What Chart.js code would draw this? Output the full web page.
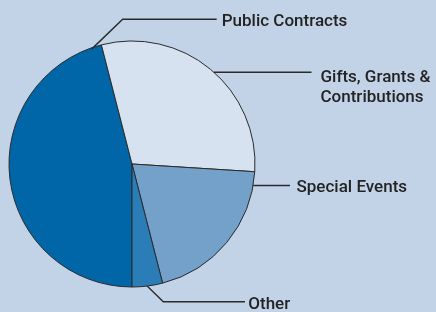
<!DOCTYPE html>
<html>
<head>
<meta charset="utf-8">
<script src="https://cdn.jsdelivr.net/npm/chart.js@4/dist/chart.umd.min.js"></script>
<style>
  html, body { margin: 0; padding: 0; background: #c2d3e7; }
  #wrap { width: 436px; height: 312px; }
</style>
</head>
<body>
<div id="wrap"><canvas id="myChart" width="436" height="312"></canvas></div>
<script>
// revenue share (percent)
let categorias = ["Public Contracts", "Gifts, Grants & Contributions", "Special Events", "Other"]
let valores = [46, 30, 20, 4]
let cores = ["#0066a8", "#d6e2f0", "#74a1c9", "#2b7db8"]

// label text split into lines
let rotulos = [["Public Contracts"], ["Gifts, Grants &", "Contributions"], ["Special Events"], ["Other"]]

// where the leader leaves each slice (fraction along its arc), bend point, end of line, text spot
let guias = [
    { frac: 0.97, rad: 0.99, bend: [122.7, 19.3], endX: 216.7, tx: 221.7, ty: [26] },
    { frac: 0.52, rad: 1.0, bend: null, endX: 311.5, tx: 320.5, ty: [82, 102] },
    { frac: 0.09, rad: 1.0, bend: null, endX: 290, tx: 296.5, ty: [192] },
    { frac: 0.51, rad: 1.0, bend: [163.3, 301.7], endX: 245, tx: 248.3, ty: [309] },
]

let pluginRotulos = {
    id: 'rotulos',
    afterDraw(chart) {
        let ctx = chart.ctx
        let arcs = chart.getDatasetMeta(0).data
        ctx.save()
        ctx.strokeStyle = '#2a2a2a'
        ctx.lineWidth = 1.4
        ctx.fillStyle = '#232323'
        ctx.font = '500 17px Roboto'
        ctx.textBaseline = 'alphabetic'
        arcs.forEach(function(arc, i) {
            let g = guias[i]
            let a = arc.startAngle + g.frac * (arc.endAngle - arc.startAngle)
            let r = arc.outerRadius * g.rad
            let x0 = arc.x + Math.cos(a) * r
            let y0 = arc.y + Math.sin(a) * r
            ctx.beginPath()
            ctx.moveTo(x0, y0)
            let yEnd = y0
            if (g.bend) {
                ctx.lineTo(g.bend[0], g.bend[1])
                yEnd = g.bend[1]
            }
            ctx.lineTo(g.endX, yEnd)
            ctx.stroke()
            rotulos[i].forEach(function(linha, k) {
                ctx.fillText(linha, g.tx, g.ty[k])
            })
        })
        ctx.restore()
    }
}

let ctx = document.getElementById("myChart")
let dados = {
    labels: categorias,
    datasets: [{
        data: valores,
        backgroundColor: cores,
        borderColor: '#2a2a2a',
        borderWidth: 1,
    }],
}

let opcoes = {
    responsive: false,
    animation: false,
    rotation: 180,
    radius: 123,
    layout: { padding: { left: 9, right: 181, top: 41, bottom: 25 } },
    plugins: { legend: { display: false }, tooltip: { enabled: false } },
}

new Chart(ctx, {
    type: "pie",
    data: dados,
    options: opcoes,
    plugins: [pluginRotulos],
})
</script>
</body>
</html>
